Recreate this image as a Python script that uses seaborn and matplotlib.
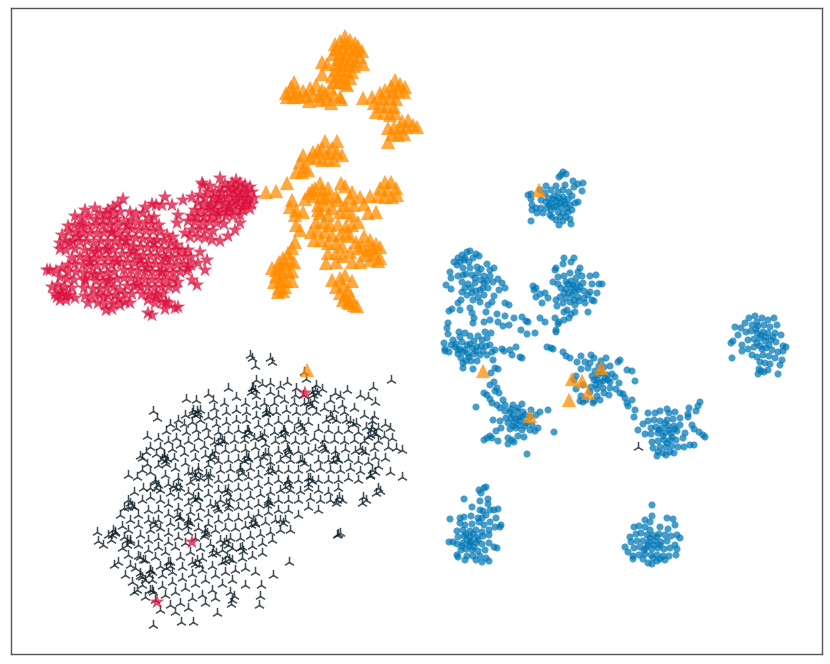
#!/usr/bin/env python3
"""Four-class embedding scatter, positions read off the picture by eye."""

import pandas as pd
import seaborn as sns
import matplotlib.pyplot as plt

# ----------------------------
# Data (embedding units)
# ----------------------------

blue_top = [(563,172),(561,175),(566,174),(559,177),(573,181),(583,183),(578,184),(582,191),(574,187),(565,185),
    (556,186),(546,186),(540,190),(531,194),(528,195),(531,199),(532,205),(532,210),(536,208),(541,200),(545,193),
    (551,190),(558,192),(563,190),(569,192),(572,196),(568,199),(564,201),(559,198),(554,196),(548,198),(551,203),
    (556,206),(561,207),(565,204),(570,205),(575,203),(578,202),(572,210),(568,212),(563,213),(558,212),(551,210),
    (547,208),(541,208),(537,213),(543,213),(550,215),(552,217),(556,220),(560,217),(566,217),(531,221),(559,225),
    (563,221),(570,219),(571,224),(553,199),(557,201),(560,203),(554,207),(549,205),(563,197),(567,208),(546,202)]
blue_left_a = [(467,252),(462,255),(470,251),(476,254),(458,258),(454,262),(460,262),(465,258),(469,262),(473,258),
    (479,256),(463,268),(470,268),(477,267),(481,269),(487,264),(490,270),(494,268),(450,272),(451,278),(446,285),
    (451,289),(458,276),(462,282),(465,288),(468,284),(472,275),(478,273),(484,276),(490,276),(493,282),(498,279),
    (502,283),(499,290),(505,288),(484,283),(488,288),(480,290),(475,283),(472,293),(467,295),(461,300),(458,303),
    (473,300),(478,297),(484,295),(480,302),(494,296),(492,302),(470,308),(460,310),(449,311),(452,309),(472,313),
    (488,305),(486,312),(474,318),(505,303),(509,305),(497,314),(505,316),(509,325),(514,318),(503,326),(498,322),
    (490,320),(484,322),(473,323),(485,332),(491,333),(464,260),(457,265),(466,274),(475,278),(481,280),(487,281),
    (463,275),(471,288),(476,291),(483,288),(462,292)]
blue_left_b = [(448,323),(447,328),(448,334),(444,343),(445,349),(451,345),(453,340),(459,332),(460,337),(465,333),
    (470,336),(474,341),(478,336),(482,340),(487,338),(486,346),(456,344),(462,342),(467,345),(472,348),(477,347),
    (483,351),(487,355),(490,345),(492,352),(445,351),(458,350),(463,352),(468,354),(474,354),(480,355),(461,358),
    (466,361),(471,361),(477,361),(463,363),(495,350),(493,360),(495,368),(498,369),(463,368),(449,352),(491,373),
    (473,369),(502,349),(504,351),(510,350),(516,347),(521,330),(528,322),(540,318),(545,322),(535,333),(512,355),
    (522,358),(455,347),(460,349),(465,350),(470,344),(476,351),(481,346),(458,354),(469,357)]
blue_mid = [(564,258),(574,258),(571,262),(563,264),(556,268),(555,270),(580,268),(578,272),(558,277),(564,276),
    (570,273),(576,278),(582,276),(566,282),(571,281),(577,284),(583,283),(590,276),(596,275),(599,284),(592,284),
    (553,282),(558,284),(561,288),(566,289),(572,288),(578,290),(584,291),(590,292),(597,293),(602,284),(534,290),
    (536,288),(533,286),(540,294),(536,297),(545,293),(548,298),(542,303),(556,300),(560,297),(566,298),(572,295),
    (578,297),(584,298),(588,295),(557,306),(563,303),(570,302),(575,305),(579,301),(585,303),(592,300),(594,301),
    (564,312),(567,310),(571,314),(575,312),(569,318),(564,320),(588,312),(522,317),(526,321),(555,318),(558,324),
    (556,330),(559,322),(527,334),(556,332),(547,347),(551,348),(553,349),(563,352),(566,356),(570,358),(520,357),
    (568,284),(573,285),(575,291),(569,293),(580,287),(564,293),(574,300)]
blue_right = [(755,316),(749,318),(757,322),(762,318),(768,320),(774,318),(735,327),(741,328),(745,323),(752,325),
    (758,326),(764,325),(770,327),(777,325),(738,335),(746,332),(751,331),(757,333),(763,332),(768,333),(775,333),
    (781,335),(731,343),(733,341),(742,345),(748,340),(754,339),(760,338),(765,341),(771,340),(776,342),(783,346),
    (786,347),(732,358),(742,351),(748,349),(754,347),(760,346),(766,348),(772,350),(778,352),(783,351),(752,355),
    (757,357),(763,355),(769,356),(775,358),(782,360),(760,362),(765,363),(770,364),(759,369),(761,371),(768,370),
    (780,365),(778,374),(764,372),(758,374),(756,329),(761,335),(766,337),(769,345),(762,349),(757,343),(773,337)]
blue_center = [(581,356),(591,355),(594,358),(601,361),(606,358),(618,362),(620,360),(577,362),(585,362),(590,363),
    (599,366),(604,367),(610,366),(627,370),(632,371),(581,369),(588,368),(595,371),(601,373),(607,375),(612,374),
    (574,380),(576,376),(592,376),(597,380),(603,381),(608,380),(615,377),(619,383),(635,381),(576,389),(583,385),
    (591,387),(597,389),(603,388),(610,388),(616,389),(620,393),(581,396),(590,392),(597,396),(604,393),(609,395),
    (580,401),(586,400),(600,400),(594,401),(593,403),(623,394),(625,398),(627,403),(628,406),(635,410),(583,402),
    (634,417),(632,400),(598,375),(600,383),(605,378),(596,385),(610,382),(594,380)]
blue_lower_a = [(494,382),(490,385),(497,388),(495,391),(499,393),(484,393),(487,395),(490,399),(492,403),(476,407),
    (503,400),(497,405),(500,408),(505,405),(513,405),(522,404),(518,408),(511,409),(505,411),(510,412),(517,411),
    (523,412),(531,410),(540,412),(548,410),(506,418),(513,415),(519,417),(525,415),(530,417),(536,415),(493,420),
    (500,421),(508,423),(514,422),(520,421),(526,423),(532,425),(538,428),(554,432),(490,436),(496,431),(501,428),
    (510,429),(516,428),(522,430),(530,430),(535,431),(484,440),(487,438),(492,438),(498,441),(508,438),(512,440),
    (518,436),(524,437),(508,444),(514,442),(527,454),(516,419),(519,425),(513,426),(525,426),(522,417),(511,418)]
blue_lower_b = [(700,402),(698,406),(696,411),(689,408),(688,414),(648,413),(655,413),(660,411),(667,409),(669,413),
    (675,412),(688,417),(643,424),(648,421),(654,420),(660,421),(667,420),(673,419),(680,418),(651,428),(656,427),
    (662,428),(668,426),(674,426),(680,425),(692,425),(638,430),(645,434),(651,434),(658,433),(665,433),(671,433),
    (677,431),(685,433),(694,429),(699,432),(703,435),(705,437),(652,442),(658,441),(664,440),(670,440),(676,440),
    (683,438),(690,445),(694,445),(653,448),(660,447),(666,447),(672,446),(678,447),(684,447),(658,452),(663,453),
    (670,452),(657,456),(666,455),(674,453),(665,423),(669,430),(663,436),(672,437),(659,430),(667,443),(675,429)]
blue_bottom_a = [(486,487),(484,488),(479,490),(481,493),(464,499),(480,501),(488,499),(488,504),(472,507),(480,510),
    (483,511),(490,510),(494,510),(498,509),(450,519),(460,518),(464,517),(471,516),(478,518),(482,518),(486,515),
    (496,518),(460,523),(465,525),(472,524),(479,522),(484,525),(490,522),(501,525),(457,531),(463,530),(470,531),
    (476,530),(482,532),(489,530),(495,527),(500,527),(458,537),(464,536),(470,537),(477,537),(483,536),(489,535),
    (449,542),(453,542),(457,544),(463,543),(470,543),(476,543),(482,544),(489,543),(494,547),(497,548),(461,550),
    (466,549),(472,550),(478,551),(485,550),(457,555),(467,556),(473,556),(480,556),(486,558),(458,557),(465,560),
    (476,560),(482,562),(489,561),(467,540),(473,534),(469,546),(474,547),(462,546),(478,540),(466,534),(471,541)]
blue_bottom_b = [(652,505),(652,516),(645,520),(650,522),(667,518),(673,519),(634,527),(639,526),(645,527),(650,530),
    (660,527),(668,529),(675,525),(680,538),(630,537),(636,534),(641,533),(647,535),(653,535),(659,534),(665,535),
    (671,536),(677,535),(631,542),(637,541),(643,541),(649,542),(655,541),(661,542),(667,541),(675,545),(625,547),
    (628,552),(634,548),(640,547),(646,548),(652,549),(658,548),(664,549),(670,548),(677,549),(633,556),(639,555),
    (645,554),(651,555),(657,555),(663,556),(669,556),(676,555),(633,559),(643,559),(653,558),(660,559),(665,560),
    (648,563),(652,564),(657,561),(650,538),(654,545),(648,545),(657,537),(660,545),(644,550)]

orange_top = [(345,36),(340,41),(350,40),(335,44),(345,43),(355,43),(358,46),(336,49),(342,48),(349,48),(355,50),
    (362,51),(333,54),(340,54),(346,54),(352,55),(360,57),(338,59),(344,59),(350,60),(356,61),(363,64),(336,64),
    (342,65),(348,65),(354,66),(322,62),(327,64),(336,70),(341,70),(347,71),(352,72),(332,76),(338,76),(344,77),
    (350,78),(322,74),(334,82),(339,82),(345,83),(347,85),(294,82),(291,87),(286,93),(292,93),(297,92),(303,91),
    (310,88),(316,85),(322,90),(287,97),(294,97),(300,97),(306,96),(313,95),(319,96),(325,93),(330,88),(334,95),
    (340,97),(309,101),(320,100),(327,99),(331,103),(341,99)]
orange_side = [(395,80),(391,86),(400,84),(405,87),(363,98),(372,97),(380,93),(385,90),(392,92),(398,90),(404,92),
    (374,103),(382,98),(390,98),(396,99),(381,106),(387,106),(394,107),(376,112),(384,113),(390,115),(395,113),
    (402,121),(408,120),(413,125),(417,127),(388,128),(394,127),(400,128),(406,127),(392,134),(398,135),(404,134),
    (388,142)]
orange_mid = [(325,141),(337,141),(322,148),(332,148),(313,152),(318,150),(328,153),(337,152),(342,155),(310,158),
    (316,157),(322,160),(328,159),(334,160),(303,155),(300,162),(304,167),(296,172),(302,172),(308,170),(287,183),
    (276,191),(266,192),(320,183),(315,188),(322,190),(328,188),(309,193),(314,196),(321,197),(329,196),(336,196),
    (341,183),(345,186),(352,192),(338,200),(345,205),(350,198),(360,197),(370,196),(385,182),(391,182),(396,188),
    (380,188),(387,190),(378,196),(385,197),(392,197),(397,195),(292,200),(290,207),(296,210),(305,199),(318,205),
    (325,205),(332,208),(340,212),(346,212),(354,205),(364,204),(368,213),(376,212),(352,215),(303,212),(295,215),
    (320,213),(328,215),(316,222),(324,222),(330,225),(338,224),(346,226),(352,225),(358,222),(296,225),(300,230),
    (311,232),(317,230),(325,232),(332,235),(340,235),(346,233),(350,236),(364,236),(370,240),(376,244),(380,247),
    (314,240),(321,240),(328,243),(336,243),(342,246),(356,242),(362,246),(368,250),(375,254),(380,258),(350,252),
    (336,253),(328,253),(326,263),(343,256),(336,262),(352,262),(360,262),(370,260),(378,261),(325,198),(318,210),
    (312,190),(358,248),(365,255),(372,248)]
orange_low = [(295,242),(292,248),(288,253),(283,258),(279,262),(276,270),(280,268),(285,264),(290,260),(294,262),
    (272,268),(276,276),(282,274),(288,272),(292,271),(274,282),(280,281),(286,281),(292,281),(279,288),(285,287),
    (278,292),(283,291),(332,280),(340,278),(345,275),(352,281),(336,287),(343,285),(348,290),(340,293),(345,296),
    (351,297),(343,300),(348,302),(354,305),(357,306),(350,303)]
orange_stray = [(539,190),(307,370),(483,371),(601,368),(572,379),(582,381),(588,393),(569,400),(530,416)]

red_right = [(236,180),(232,183),(240,183),(245,185),(225,184),(220,188),(228,188),(236,187),(243,189),(250,187),
    (203,185),(210,186),(222,192),(230,193),(238,192),(246,193),(252,192),(215,193),(208,192),(200,195),(205,198),
    (213,198),(220,197),(227,198),(234,197),(241,198),(248,198),(254,198),(198,203),(204,205),(211,204),(218,203),
    (225,204),(232,203),(239,204),(246,204),(252,204),(195,210),(201,211),(208,210),(215,210),(222,210),(229,209),
    (236,210),(243,210),(250,209),(191,216),(197,217),(204,217),(211,216),(218,216),(226,216),(233,216),(240,215),
    (188,221),(195,222),(203,223),(210,222),(217,223),(224,224),(240,223),(235,230),(228,236),(220,241),(185,233),
    (192,230),(199,229),(206,230),(213,231),(190,237),(198,237),(205,238),(212,240),(220,178),(165,197),(162,205),
    (172,205),(178,215),(177,223),(183,200),(192,197),(202,183),(233,190),(241,195),(247,201),(236,201),(229,206),
    (219,200),(211,207),(243,207),(228,212),(218,213)]
red_left = [(123,199),(118,204),(113,207),(108,210),(145,207),(152,204),(156,205),(85,210),(95,208),(100,213),
    (106,214),(113,213),(120,212),(75,216),(82,218),(89,216),(96,219),(103,220),(110,219),(117,219),(130,212),
    (136,214),(143,213),(149,218),(154,217),(68,226),(75,225),(82,224),(89,226),(96,225),(103,226),(110,225),
    (117,226),(124,222),(131,220),(138,222),(145,224),(152,224),(159,225),(62,235),(69,232),(76,233),(83,234),
    (90,233),(97,234),(104,233),(111,233),(118,234),(125,230),(132,229),(139,230),(146,231),(153,231),(160,232),
    (167,235),(173,237),(60,243),(66,241),(73,241),(80,242),(87,241),(94,243),(101,241),(108,242),(115,241),
    (122,238),(129,237),(136,238),(143,239),(150,240),(157,240),(164,241),(171,243),(177,245),(60,249),(66,250),
    (75,249),(85,250),(92,251),(99,249),(106,250),(113,250),(120,246),(127,245),(134,247),(141,247),(148,248),
    (155,248),(162,249),(169,250),(176,250),(182,250),(188,250),(72,258),(80,257),(87,258),(94,259),(101,258),
    (108,258),(115,258),(122,254),(129,254),(136,255),(143,256),(150,256),(157,256),(164,257),(171,258),(178,257),
    (185,256),(191,257),(200,252),(205,270),(198,263),(207,260),(68,265),(75,264),(83,265),(90,266),(97,266),
    (105,265),(112,265),(121,263),(128,262),(135,263),(142,264),(149,264),(156,264),(163,265),(170,266),(177,265),
    (184,264),(191,265),(50,270),(56,271),(62,268),(68,272),(76,272),(84,273),(91,274),(100,274),(107,273),(114,272),
    (124,270),(131,270),(138,271),(145,272),(152,272),(159,272),(166,273),(173,273),(180,272),(187,271),(47,270),
    (60,277),(67,279),(74,280),(85,281),(96,281),(103,281),(110,280),(117,279),(124,278),(131,278),(138,279),
    (145,280),(152,280),(159,280),(166,281),(173,280),(192,280),(197,285),(52,287),(58,285),(65,287),(72,288),
    (84,288),(93,289),(100,289),(107,288),(114,287),(127,286),(134,286),(141,287),(148,287),(155,288),(162,287),
    (169,287),(176,288),(55,294),(62,294),(70,295),(85,296),(92,297),(99,295),(108,296),(115,295),(125,294),
    (132,294),(142,294),(149,295),(156,295),(163,294),(60,300),(66,300),(75,298),(88,303),(98,303),(105,305),
    (113,303),(120,305),(125,302),(130,303),(148,300),(155,303),(162,302),(169,303),(175,308),(106,310),(112,309),
    (148,313),(152,315),(166,302),(165,309),(57,297),(61,291),(66,296),(82,227),(112,232),(108,249),(133,251),
    (78,237),(96,252),(126,241),(117,262),(85,279),(95,275),(140,260),(162,272),(137,285),(104,297),(119,299),
    (156,297),(70,243),(90,262),(147,268),(154,243),(166,259),(178,282),(188,268),(120,290),(108,281),(128,225)]
red_stray = [(178,307),(305,393),(192,542),(157,602)]

black_isolated = [(250,355),(252,358),(255,366),(272,362),(391,380),(304,372),(306,379),(153,411),(157,418),(147,436),
    (140,456),(142,458),(147,464),(128,475),(137,477),(120,515),(97,532),(98,541),(124,537),(111,540),(118,562),
    (114,565),(153,625),(181,622),(193,622),(231,604),(217,613),(259,605),(260,596),(261,585),(289,562),(273,575),
    (338,534),(337,535),(340,533),(638,447),(402,477),(390,472),(378,428),(372,421),(390,428),(270,358)]
black_main = [(256,380),(228,388),(208,394),(213,400),(196,400),(186,399),(252,388),(262,384),(270,383),(280,386),
    (287,382),(296,388),(316,385),(322,389),(335,393),(340,396),(347,390),(342,405),(360,395),(368,397),(375,402),
    (330,400),(312,392),(303,395),(295,395),(278,395),(270,392),(256,396),(245,403),(236,397),(224,403),(214,408),
    (200,410),(192,413),(185,415),(178,420),(170,424),(166,431),(158,438),(150,447),(146,452),(176,428),(184,424),
    (192,422),(200,420),(208,417),(216,416),(226,412),(236,410),(246,412),(256,406),(264,403),(274,403),(284,400),
    (294,403),(304,403),(314,400),(324,408),(334,410),(344,412),(354,408),(364,415),(374,416),(385,424),(376,434),
    (366,427),(356,423),(346,420),(336,420),(326,420),(316,412),(306,412),(296,412),(286,410),(276,412),(266,413),
    (256,416),(246,420),(236,420),(226,422),(216,424),(206,428),(196,430),(186,432),(176,438),(168,441),(160,447),
    (156,454),(164,455),(172,449),(180,445),(188,441),(198,438),(208,436),(218,432),(228,431),(238,430),(248,430),
    (258,425),(268,423),(278,421),(288,420),(298,422),(308,422),(318,429),(328,430),(338,431),(348,430),(358,432),
    (368,437),(378,441),(388,447),(396,448),(402,450),(392,438),(384,436),(374,448),(364,441),(354,440),(344,441),
    (334,440),(324,440),(314,438),(304,432),(294,431),(284,430),(274,432),(264,434),(254,438),(244,440),(234,440),
    (224,441),(214,442),(204,446),(194,449),(184,453),(174,458),(166,464),(158,465),(150,472),(142,470),(155,480),
    (165,475),(175,468),(185,463),(195,458),(205,455),(215,451),(225,450),(235,449),(245,449),(255,447),(265,444),
    (275,441),(285,440),(295,441),(305,441),(315,449),(325,450),(335,451),(345,449),(355,451),(365,452),(375,457),
    (385,458),(378,466),(368,462),(358,461),(348,459),(338,460),(328,460),(318,460),(308,452),(298,451),(288,450),
    (278,451),(268,453),(258,456),(248,458),(238,459),(228,460),(218,461),(208,465),(198,468),(188,472),(178,478),
    (168,484),(160,490),(150,488),(143,488),(134,492),(128,500),(124,508),(134,507),(142,500),(150,497),(160,500),
    (170,493),(180,488),(190,482),(200,478),(210,474),(220,470),(230,469),(240,468),(250,468),(260,465),(270,462),
    (280,460),(290,460),(300,460),(310,469),(320,468),(330,470),(340,470),(350,468),(360,471),(370,476),(358,480),
    (348,478),(338,480),(328,480),(318,480),(308,478),(298,470),(288,470),(278,470),(268,472),(258,475),(248,477),
    (238,478),(228,479),(218,480),(208,484),(198,488),(188,492),(178,497),(168,504),(158,510),(148,510),(138,515),
    (130,520),(122,526),(115,532),(108,535),(103,545),(128,530),(138,525),(148,520),(158,520),(168,514),(178,508),
    (188,503),(198,498),(208,494),(218,490),(228,489),(238,488),(248,487),(258,485),(268,482),(278,480),(288,480),
    (298,480),(308,488),(318,490),(328,492),(338,488),(330,500),(320,500),(310,498),(300,491),(290,490),(280,490),
    (270,492),(260,494),(250,496),(240,498),(230,498),(220,500),(210,504),(200,508),(190,512),(180,517),(170,523),
    (160,528),(150,530),(140,535),(130,540),(122,548),(128,555),(138,545),(148,540),(158,538),(168,533),(178,527),
    (188,522),(198,518),(208,514),(218,510),(228,508),(238,507),(248,506),(258,504),(268,502),(278,500),(288,500),
    (298,500),(308,507),(318,510),(298,515),(288,510),(278,510),(268,512),(258,514),(248,516),(238,518),(228,518),
    (218,520),(208,524),(198,528),(188,532),(178,537),(168,542),(158,547),(148,550),(138,556),(130,565),(125,575),
    (135,568),(145,560),(155,557),(165,552),(175,547),(185,543),(195,538),(205,534),(215,530),(225,528),(235,528),
    (245,526),(255,524),(265,522),(275,520),(285,520),(290,530),(280,530),(270,532),(260,534),(250,536),(240,538),
    (230,538),(220,540),(210,544),(200,548),(190,552),(180,557),(170,562),(160,566),(150,570),(140,576),(132,582),
    (142,585),(152,580),(162,575),(172,572),(182,567),(192,562),(202,558),(212,554),(222,550),(232,548),(242,547),
    (252,546),(262,543),(272,540),(262,553),(252,556),(242,558),(232,560),(222,562),(212,566),(202,570),(192,574),
    (182,578),(172,582),(162,586),(152,590),(145,597),(155,600),(165,595),(175,592),(185,588),(195,584),(205,580),
    (215,575),(225,572),(235,570),(245,568),(232,580),(222,584),(212,590),(202,595),(192,598),(180,603),(170,605),
    (160,610),(175,612),(188,608),(205,603),(215,598),(230,592),(245,585),(255,572)]
# tighter clumps where the marks pile up and look darker
black_clumps = [(193,410),(197,411),(195,415),(198,414),(164,456),(167,459),(165,461),(162,459),(192,472),(195,475),
    (198,472),(195,478),(155,482),(158,485),(156,488),(173,486),(176,488),(178,484),(193,497),(195,500),(198,497),
    (130,503),(132,506),(128,507),(113,530),(115,533),(112,535),(127,540),(130,542),(127,545),(150,570),(152,572),
    (149,575),(140,573),(142,577),(145,580),(150,590),(153,592),(188,520),(190,523),(187,526),(205,530),(207,533),
    (204,536),(226,540),(224,543),(228,545),(197,560),(195,564),(199,565),(168,562),(170,566),(166,568),(253,388),
    (255,390),(251,392),(266,410),(269,412),(266,414),(310,404),(308,402),(312,406),(315,390),(317,393),(313,395),
    (283,430),(285,433),(281,435),(247,430),(249,433),(245,435),(220,438),(222,441),(218,443),(212,454),(214,457),
    (210,459),(246,456),(248,459),(244,461),(263,457),(265,453),(287,448),(289,452),(285,455),(335,456),(337,459),
    (333,461),(373,387),(371,430),(374,433),(370,435),(372,427),(372,470),(375,472),(370,475),(339,497),(337,500),
    (342,500),(336,503),(363,497),(366,500),(362,503),(378,488),(380,491),(376,493),(310,478),(312,481),(308,484),
    (287,482),(289,485),(285,487),(268,500),(270,503),(267,505),(253,520),(255,523),(251,525),(227,556),(229,559),
    (225,561),(213,550),(216,553),(240,548),(243,551),(280,520),(283,523),(234,596),(232,600),(153,522),(155,525),
    (140,557),(143,560),(215,505),(217,508),(240,470),(242,473),(206,474),(208,477),(226,503),(229,505),(260,436),
    (262,438),(300,425),(302,428),(330,415),(332,418),(350,421),(353,424),(360,448),(362,451),(302,460),(304,463),
    (322,445),(324,448),(270,468),(272,471),(225,490),(227,493),(177,515),(179,518),(137,590),(134,592)]

# (name, list of points) per class
blue_pts = (blue_top + blue_left_a + blue_left_b + blue_mid + blue_right + blue_center
            + blue_lower_a + blue_lower_b + blue_bottom_a + blue_bottom_b)
orange_pts = orange_top + orange_side + orange_mid + orange_low + orange_stray
red_pts = red_right + red_left + red_stray
black_pts = black_isolated + black_main + black_clumps


def to_df(points):
    return pd.DataFrame(points, columns=["x", "y"])


def main():
    sns.set_theme(style="white")
    fig, ax = plt.subplots(figsize=(8.3, 6.64), dpi=100)
    fig.subplots_adjust(left=11 / 830, right=822 / 830, top=1 - 8 / 664, bottom=1 - 654 / 664)

    sns.scatterplot(data=to_df(blue_pts), x="x", y="y", ax=ax, color="#0077b6",
                    marker="o", s=26, alpha=0.72, edgecolor="none")
    sns.scatterplot(data=to_df(black_pts), x="x", y="y", ax=ax, color="#0b1d26",
                    marker="2", s=66, alpha=0.78, linewidth=1.1)
    sns.scatterplot(data=to_df(red_pts), x="x", y="y", ax=ax, color="#dc0f3c",
                    marker="*", s=125, alpha=0.75, edgecolor="none")
    sns.scatterplot(data=to_df(orange_pts), x="x", y="y", ax=ax, color="#ff8c00",
                    marker="^", s=105, alpha=0.75, edgecolor="none")

    ax.set_xlim(11, 822)
    ax.set_ylim(654, 8)
    ax.set_xticks([])
    ax.set_yticks([])
    ax.set_xlabel("")
    ax.set_ylabel("")
    for spine in ax.spines.values():
        spine.set_color("#555555")
        spine.set_linewidth(1.0)

    fig.savefig("out.png", dpi=100)
    plt.close(fig)


if __name__ == "__main__":
    main()
